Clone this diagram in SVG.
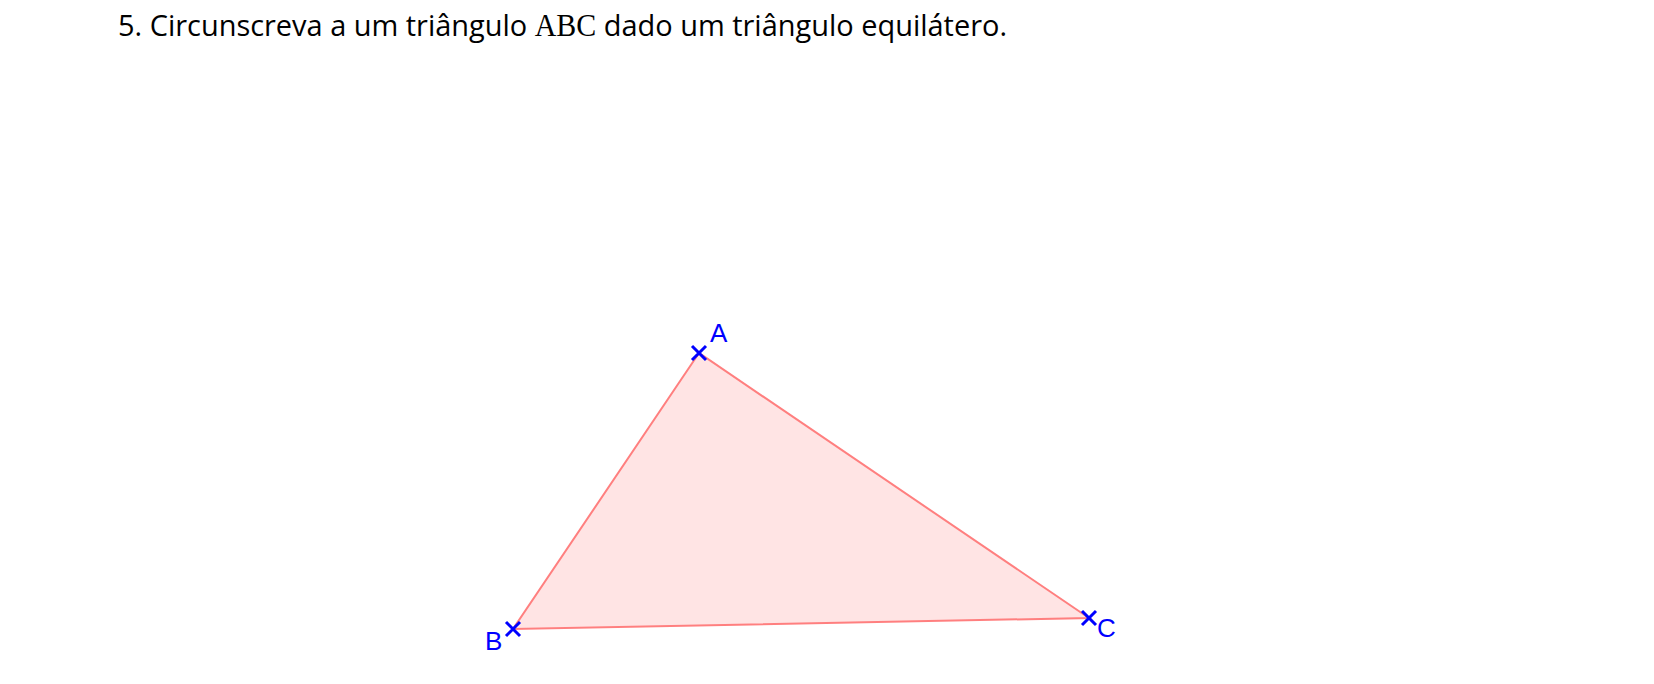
<svg xmlns="http://www.w3.org/2000/svg" width="1654" height="684" viewBox="0 0 1654 684">
<style>
.title{font-family:"Open Sans","Liberation Sans",sans-serif;font-size:30px;fill:#000}
.math{font-family:"Liberation Serif",serif;font-size:31px}
.tri{fill:#ffe4e4;stroke:#ff7f7f;stroke-width:2}
.pt{stroke:#0000ff;stroke-width:3;fill:none}
.lbl{font-family:"Liberation Sans",Arial,sans-serif;font-size:26px;fill:#0000ff}
</style>
<rect width="1654" height="684" fill="#fff"/>
<text class="title" x="118" y="36" textLength="889" lengthAdjust="spacingAndGlyphs">5. Circunscreva a um triângulo <tspan class="math">ABC</tspan> dado um triângulo equilátero.</text>
<g id="connectors">
<polygon class="tri" points="699,353 513,629 1089,618"/>
</g>
<g id="A">
<path class="pt" d="M692,346 L706,360 M706,346 L692,360"/>
<text class="lbl" x="710" y="342">A</text>
</g>
<g id="B">
<path class="pt" d="M506,622 L520,636 M520,622 L506,636"/>
<text class="lbl" x="485" y="650">B</text>
</g>
<g id="C">
<path class="pt" d="M1082,611 L1096,625 M1096,611 L1082,625"/>
<text class="lbl" x="1097" y="637">C</text>
</g>
</svg>
